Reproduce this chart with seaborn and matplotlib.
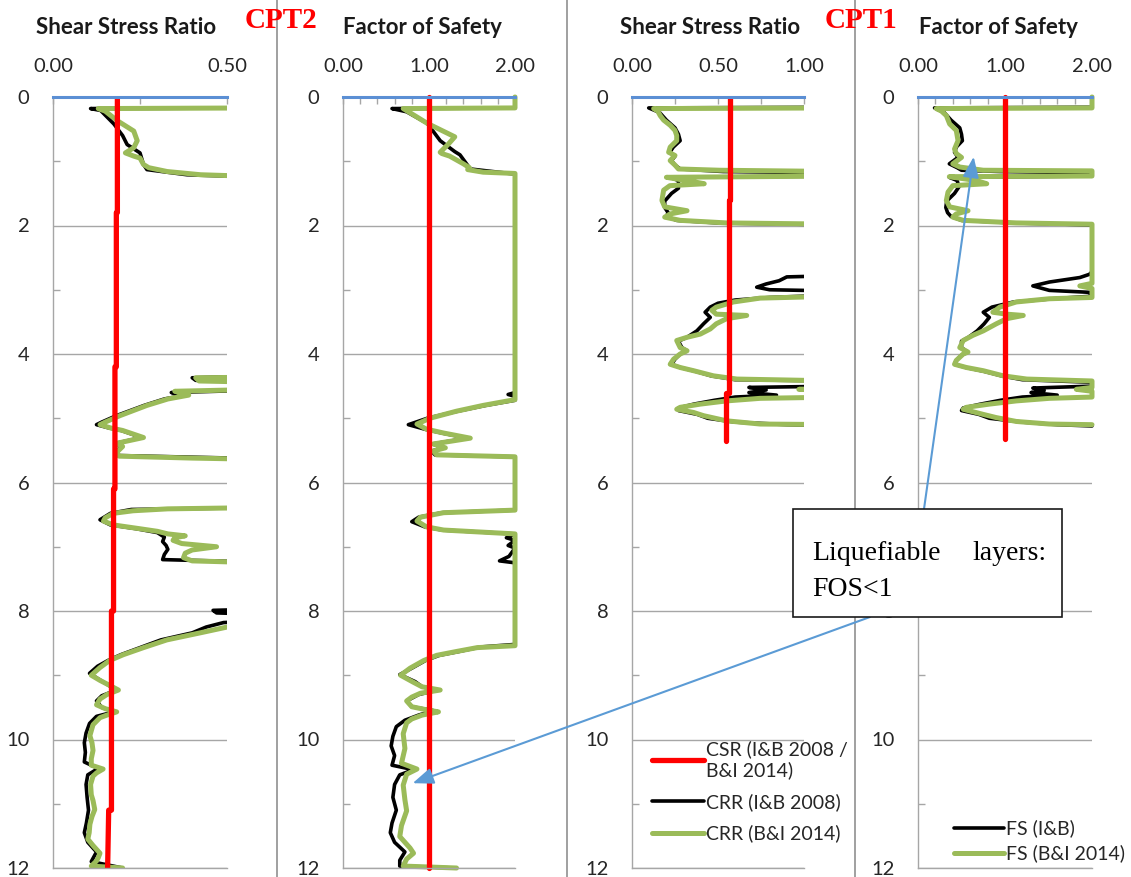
import numpy as np
import pandas as pd
import matplotlib
matplotlib.use("Agg")
import matplotlib.pyplot as plt
import seaborn as sns
from matplotlib.lines import Line2D
from matplotlib.patches import Rectangle, ConnectionPatch

# ---------------- data ----------------
# CPT2 - shear stress ratio panel
cpt2_csr_depth = [0.0, 1.8, 1.8, 4.2, 4.2, 6.1, 6.1, 8.0, 8.0, 11.1, 11.1, 12.0]
cpt2_csr = [0.185, 0.185, 0.182, 0.182, 0.178, 0.178, 0.174, 0.174, 0.168, 0.168, 0.160, 0.157]

cpt2_crr14_depth = [0.00, 0.17, 0.18, 0.22, 0.37, 0.53, 0.68, 0.79, 0.87, 0.92, 0.95, 1.05, 1.10, 1.16, 1.21, 1.24,
                    4.36, 4.37, 4.42, 4.44, 4.55, 4.58, 4.64, 4.70, 4.80, 4.88, 4.96, 5.06, 5.10, 5.15, 5.19, 5.30,
                    5.39, 5.44, 5.53, 5.59, 5.62, 5.64,
                    6.39, 6.41, 6.44, 6.48, 6.55, 6.60, 6.66, 6.72, 6.76, 6.80, 6.83, 6.86, 6.90, 6.95, 7.00, 7.05,
                    7.10, 7.17, 7.22, 7.25,
                    8.22, 8.25, 8.34, 8.45, 8.57, 8.68, 8.77, 8.88, 9.00, 9.08, 9.15, 9.23, 9.30, 9.37, 9.46, 9.52,
                    9.57, 9.62, 9.66, 9.77, 9.94, 10.05, 10.17, 10.30, 10.40, 10.46, 10.52, 10.57, 10.70, 10.86,
                    10.95, 11.09, 11.20, 11.32, 11.45, 11.55, 11.65, 11.77, 11.84, 11.89, 11.97, 12.00]
cpt2_crr14 = [0.60, 0.60, 0.130, 0.150, 0.185, 0.232, 0.242, 0.232, 0.208, 0.232, 0.250, 0.260, 0.275, 0.328, 0.424, 0.60,
              0.60, 0.410, 0.420, 0.60, 0.60, 0.350, 0.390, 0.330, 0.270, 0.231, 0.192, 0.150, 0.135, 0.165, 0.200, 0.260,
              0.183, 0.200, 0.183, 0.190, 0.400, 0.60,
              0.60, 0.330, 0.230, 0.173, 0.150, 0.145, 0.173, 0.250, 0.300, 0.330, 0.380, 0.350, 0.345, 0.370, 0.470, 0.400,
              0.380, 0.375, 0.400, 0.60,
              0.60, 0.500, 0.423, 0.327, 0.260, 0.202, 0.163, 0.135, 0.110, 0.135, 0.160, 0.188, 0.155, 0.135, 0.125, 0.150,
              0.183, 0.155, 0.135, 0.115, 0.106, 0.112, 0.115, 0.110, 0.110, 0.144, 0.125, 0.115, 0.108, 0.110,
              0.115, 0.120, 0.112, 0.106, 0.104, 0.100, 0.115, 0.135, 0.130, 0.125, 0.110, 0.200]

cpt2_crr08_depth = [0.00, 0.17, 0.18, 0.21, 0.42, 0.60, 0.74, 0.87, 1.05, 1.13, 1.21, 1.25,
                    4.34, 4.37, 4.41, 4.44, 4.56, 4.60, 4.64, 4.70, 4.80, 4.88, 4.96, 5.06, 5.10, 5.15, 5.19, 5.30,
                    5.39, 5.44, 5.53, 5.58, 5.63,
                    6.39, 6.42, 6.48, 6.58, 6.66, 6.72, 6.78, 6.85, 6.92, 6.98, 7.04, 7.12, 7.20, 7.24,
                    7.97, 7.99, 8.03, 8.05, 8.15, 8.18, 8.25, 8.34, 8.45, 8.57, 8.68, 8.77, 8.86, 8.97, 9.05, 9.15,
                    9.23, 9.32, 9.40, 9.50, 9.57, 9.64, 9.75, 9.90, 10.05, 10.20, 10.35, 10.45, 10.55, 10.70, 10.90,
                    11.10, 11.30, 11.45, 11.60, 11.75, 11.90, 12.00]
cpt2_crr08 = [0.60, 0.60, 0.108, 0.137, 0.175, 0.200, 0.213, 0.250, 0.260, 0.270, 0.385, 0.60,
              0.60, 0.400, 0.410, 0.60, 0.60, 0.340, 0.380, 0.320, 0.262, 0.222, 0.182, 0.140, 0.125, 0.160, 0.196, 0.255,
              0.180, 0.196, 0.180, 0.186, 0.60,
              0.60, 0.225, 0.165, 0.135, 0.165, 0.240, 0.300, 0.320, 0.315, 0.325, 0.330, 0.320, 0.315, 0.60,
              0.60, 0.460, 0.470, 0.60, 0.60, 0.490, 0.440, 0.400, 0.310, 0.250, 0.195, 0.158, 0.128, 0.105, 0.128, 0.158,
              0.182, 0.140, 0.125, 0.140, 0.175, 0.125, 0.105, 0.095, 0.090, 0.093, 0.090, 0.130, 0.100, 0.095, 0.098,
              0.102, 0.096, 0.090, 0.100, 0.125, 0.110, 0.200]

# CPT2 - factor of safety panel
cpt2_fs_ref_depth = [0.0, 12.0]
cpt2_fs_ref = [1.0, 1.0]

cpt2_fs14_depth = [0.00, 0.17, 0.18, 0.41, 0.62, 0.74, 0.86, 0.88, 0.92, 1.04, 1.10, 1.13, 1.17, 1.19,
                   4.71, 4.80, 4.89, 5.00, 5.09, 5.17, 5.23, 5.31, 5.40, 5.46, 5.51, 5.57, 5.60,
                   6.43, 6.47, 6.54, 6.60, 6.69, 6.74, 6.80,
                   8.54, 8.57, 8.63, 8.69, 8.77, 8.89, 9.00, 9.11, 9.18, 9.23, 9.28, 9.34, 9.40, 9.49, 9.54, 9.57,
                   9.62, 9.68, 9.74, 9.91, 10.14, 10.37, 10.46, 10.54, 10.71, 10.94, 11.11, 11.34, 11.51, 11.69,
                   11.77, 11.86, 11.97, 12.00]
cpt2_fs14 = [2.0, 2.0, 0.70, 0.98, 1.30, 1.22, 1.13, 1.15, 1.24, 1.40, 1.47, 1.45, 1.63, 2.0,
             2.0, 1.63, 1.32, 1.01, 0.86, 0.97, 1.17, 1.48, 1.05, 1.19, 1.05, 1.09, 2.0,
             2.0, 1.17, 0.90, 0.86, 0.97, 1.17, 2.0,
             2.0, 1.56, 1.32, 1.09, 0.94, 0.78, 0.67, 0.82, 0.92, 1.13, 0.90, 0.80, 0.74, 0.80, 0.98, 1.11,
             0.92, 0.80, 0.74, 0.70, 0.72, 0.68, 0.86, 0.74, 0.70, 0.72, 0.74, 0.68, 0.66, 0.78,
             0.82, 0.74, 0.70, 1.32]

cpt2_fs08_depth = [0.00, 0.17, 0.18, 0.23, 0.41, 0.68, 0.85, 0.90, 1.12, 1.20,
                   4.60, 4.63, 4.66, 4.72, 4.80, 4.90, 5.00, 5.10, 5.17, 5.23, 5.31, 5.40, 5.46, 5.51, 5.57, 5.60,
                   6.43, 6.47, 6.54, 6.61, 6.69, 6.74, 6.80, 6.86, 6.90, 6.98, 7.02, 7.15, 7.22, 7.25,
                   8.52, 8.56, 8.63, 8.69, 8.77, 8.89, 8.99, 9.10, 9.18, 9.23, 9.30, 9.40, 9.49, 9.55, 9.62, 9.70,
                   9.80, 9.95, 10.10, 10.25, 10.40, 10.47, 10.55, 10.70, 10.90, 11.10, 11.30, 11.45, 11.60, 11.75,
                   11.88, 11.97, 12.00]
cpt2_fs08 = [2.0, 2.0, 0.57, 0.74, 0.98, 1.13, 1.30, 1.36, 1.48, 2.0,
             2.0, 1.92, 2.0, 2.0, 1.66, 1.30, 0.98, 0.76, 0.95, 1.15, 1.45, 1.04, 1.17, 1.03, 1.07, 2.0,
             2.0, 1.15, 0.88, 0.80, 0.95, 1.15, 2.0, 1.90, 2.0, 1.92, 2.0, 1.93, 1.82, 2.0,
             2.0, 1.60, 1.35, 1.12, 0.96, 0.80, 0.66, 0.84, 0.92, 1.10, 0.88, 0.74, 0.80, 1.05, 0.88, 0.72,
             0.62, 0.58, 0.56, 0.60, 0.57, 0.82, 0.66, 0.60, 0.58, 0.62, 0.57, 0.55, 0.60, 0.72,
             0.66, 0.66, 1.30]

# CPT1 - shear stress ratio panel
cpt1_csr_depth = [0.0, 1.6, 1.6, 4.6, 4.6, 5.35]
cpt1_csr = [0.572, 0.572, 0.562, 0.562, 0.548, 0.548]

cpt1_crr14_depth = [0.00, 0.17, 0.18, 0.22, 0.29, 0.36, 0.44, 0.52, 0.60, 0.68, 0.78, 0.86, 0.91, 0.99, 1.06, 1.12,
                    1.14, 1.16, 1.23, 1.25, 1.32, 1.35, 1.38, 1.45, 1.61, 1.71, 1.77, 1.82, 1.87, 1.92, 1.96, 1.98,
                    3.10, 3.13, 3.19, 3.27, 3.32, 3.38, 3.40, 3.45, 3.53, 3.61, 3.69, 3.74, 3.79, 3.90, 3.95, 4.00,
                    4.08, 4.16, 4.21, 4.26, 4.34, 4.39, 4.42, 4.53, 4.55, 4.57, 4.67, 4.69, 4.73, 4.78, 4.83, 4.86,
                    4.91, 4.96, 5.04, 5.09, 5.10]
cpt1_crr14 = [1.2, 1.2, 0.126, 0.150, 0.164, 0.184, 0.222, 0.250, 0.260, 0.260, 0.222, 0.213, 0.250, 0.222, 0.250, 0.270,
              0.510, 1.2, 1.2, 0.200, 0.360, 0.420, 0.220, 0.184, 0.174, 0.190, 0.320, 0.222, 0.190, 0.280, 0.550, 1.2,
              1.2, 0.745, 0.590, 0.490, 0.464, 0.490, 0.667, 0.550, 0.490, 0.455, 0.397, 0.320, 0.260, 0.280, 0.320, 0.280,
              0.242, 0.222, 0.280, 0.358, 0.474, 0.610, 1.2, 1.2, 0.970, 1.2, 1.2, 0.745, 0.550, 0.397, 0.280, 0.260,
              0.358, 0.416, 0.550, 0.745, 1.2]

cpt1_crr08_depth = [0.00, 0.16, 0.17, 0.24, 0.36, 0.48, 0.58, 0.68, 0.78, 0.86, 0.92, 0.99, 1.06, 1.12, 1.16, 1.18,
                    1.23, 1.25, 1.30, 1.42, 1.50, 1.62, 1.72, 1.80, 1.86, 1.92, 1.96, 1.99,
                    2.78, 2.80, 2.86, 2.91, 2.96, 3.00, 3.02, 3.08, 3.12, 3.16, 3.21, 3.27, 3.35, 3.43, 3.53, 3.64,
                    3.74, 3.80, 3.90, 3.95, 4.00, 4.08, 4.16, 4.21, 4.27, 4.34, 4.40, 4.42, 4.50, 4.52, 4.56, 4.60,
                    4.64, 4.67, 4.72, 4.78, 4.84, 4.88, 4.94, 5.00, 5.06, 5.10, 5.12]
cpt1_crr08 = [1.2, 1.2, 0.097, 0.160, 0.200, 0.250, 0.270, 0.280, 0.240, 0.220, 0.250, 0.230, 0.250, 0.280, 0.530, 1.2,
              1.2, 0.220, 0.270, 0.270, 0.230, 0.190, 0.190, 0.210, 0.200, 0.260, 0.500, 1.2,
              1.2, 0.900, 0.855, 0.780, 0.725, 0.800, 1.2, 1.2, 0.800, 0.600, 0.500, 0.455, 0.425, 0.455, 0.416, 0.377,
              0.320, 0.270, 0.290, 0.320, 0.280, 0.250, 0.230, 0.280, 0.370, 0.460, 0.600, 1.2, 1.2, 0.680, 0.780, 0.680,
              0.840, 0.600, 0.480, 0.360, 0.270, 0.270, 0.380, 0.440, 0.600, 0.900, 1.2]

# CPT1 - factor of safety panel
cpt1_fs_ref_depth = [0.0, 5.32]
cpt1_fs_ref = [1.0, 1.0]

cpt1_fs14_depth = [0.00, 0.17, 0.18, 0.22, 0.29, 0.42, 0.52, 0.68, 0.81, 0.88, 0.94, 1.04, 1.09, 1.14, 1.15, 1.23,
                   1.24, 1.30, 1.35, 1.38, 1.48, 1.61, 1.71, 1.77, 1.82, 1.87, 1.92, 1.96, 1.98, 2.90, 2.94, 2.98,
                   3.12, 3.14, 3.19, 3.27, 3.35, 3.38, 3.40, 3.45, 3.53, 3.64, 3.71, 3.79, 3.90, 3.97, 4.00, 4.10,
                   4.16, 4.21, 4.26, 4.34, 4.39, 4.42, 4.52, 4.55, 4.58, 4.67, 4.69, 4.73, 4.78, 4.83, 4.86, 4.94,
                   4.99, 5.05, 5.09, 5.10]
cpt1_fs14 = [2.0, 2.0, 0.21, 0.27, 0.326, 0.364, 0.44, 0.46, 0.42, 0.44, 0.50, 0.40, 0.48, 0.75, 2.0, 2.0,
             0.36, 0.67, 0.79, 0.40, 0.345, 0.326, 0.364, 0.575, 0.44, 0.40, 0.52, 1.13, 2.0, 2.0, 1.86, 2.0,
             2.0, 1.51, 1.13, 0.94, 0.86, 1.02, 1.21, 1.02, 0.90, 0.75, 0.63, 0.52, 0.48, 0.575, 0.52, 0.44,
             0.42, 0.556, 0.75, 0.98, 1.25, 2.0, 2.0, 1.82, 2.0, 2.0, 1.51, 1.13, 0.82, 0.556, 0.52, 0.75,
             0.90, 1.13, 1.51, 2.0]

cpt1_fs08_depth = [0.00, 0.16, 0.17, 0.24, 0.36, 0.48, 0.58, 0.68, 0.78, 0.86, 0.94, 1.04, 1.10, 1.14, 1.16, 1.18,
                   1.23, 1.25, 1.30, 1.40, 1.50, 1.62, 1.72, 1.80, 1.86, 1.92, 1.96, 1.99,
                   2.72, 2.76, 2.81, 2.88, 2.94, 3.01, 3.04, 3.10, 3.14, 3.19, 3.27, 3.35, 3.43, 3.53, 3.64, 3.74,
                   3.80, 3.90, 3.97, 4.02, 4.10, 4.16, 4.21, 4.27, 4.34, 4.40, 4.44, 4.50, 4.53, 4.57, 4.60, 4.64,
                   4.67, 4.72, 4.78, 4.84, 4.88, 4.94, 5.00, 5.06, 5.10, 5.12]
cpt1_fs08 = [2.0, 2.0, 0.19, 0.30, 0.38, 0.48, 0.50, 0.51, 0.44, 0.42, 0.46, 0.36, 0.45, 0.50, 0.95, 2.0,
             2.0, 0.36, 0.45, 0.47, 0.42, 0.33, 0.32, 0.34, 0.38, 0.50, 1.10, 2.0,
             2.0, 1.97, 1.86, 1.51, 1.32, 1.51, 1.97, 2.0, 1.55, 1.10, 0.85, 0.75, 0.82, 0.76, 0.68, 0.58,
             0.50, 0.50, 0.57, 0.50, 0.44, 0.42, 0.55, 0.76, 0.96, 1.20, 2.0, 2.0, 1.32, 1.45, 1.30, 1.60,
             1.20, 0.95, 0.72, 0.52, 0.50, 0.70, 0.82, 1.20, 1.60, 2.0]

titles = ["Shear Stress Ratio", "Factor of Safety", "Shear Stress Ratio", "Factor of Safety"]
x_limits = [0.5, 2.0, 1.0, 2.0]
x_major = [[0, 0.5], [0, 1, 2], [0, 0.5, 1], [0, 1, 2]]
x_minor = [[0.25], list(np.arange(0, 2.01, 0.2)), [0.25, 0.75], list(np.arange(0, 2.01, 0.2))]

# ---------------- styling ----------------
sns.set_theme(style="white")
plt.rcParams["font.family"] = ["Lato", "DejaVu Sans"]

RED = "#FF0000"
GREEN = "#9BBB59"
BLACK = "#000000"
BLUE = "#5B8FD4"
GRAY = "#A6A6A6"

W, H = 1131, 877
fig = plt.figure(figsize=(W / 100, H / 100), dpi=100)

# axes boxes in pixels: left, right
boxes = [(53, 227), (343, 515), (632, 804), (918, 1092)]
top_px, bot_px = 97, 868
axes = []
for (l, r) in boxes:
    ax = fig.add_axes([l / W, 1 - bot_px / H, (r - l) / W, (bot_px - top_px) / H])
    ax.set_facecolor("none")
    axes.append(ax)

curves = [
    [(cpt2_crr08, cpt2_crr08_depth, BLACK, 2.6, True), (cpt2_crr14, cpt2_crr14_depth, GREEN, 3.6, True),
     (cpt2_csr, cpt2_csr_depth, RED, 3.8, True)],
    [(cpt2_fs08, cpt2_fs08_depth, BLACK, 2.6, False), (cpt2_fs14, cpt2_fs14_depth, GREEN, 3.6, False),
     (cpt2_fs_ref, cpt2_fs_ref_depth, RED, 3.8, False)],
    [(cpt1_crr08, cpt1_crr08_depth, BLACK, 2.6, True), (cpt1_crr14, cpt1_crr14_depth, GREEN, 3.6, True),
     (cpt1_csr, cpt1_csr_depth, RED, 3.8, True)],
    [(cpt1_fs08, cpt1_fs08_depth, BLACK, 2.6, False), (cpt1_fs14, cpt1_fs14_depth, GREEN, 3.6, False),
     (cpt1_fs_ref, cpt1_fs_ref_depth, RED, 3.8, False)],
]

for i, ax in enumerate(axes):
    for vals, depth, col, lw, clip in curves[i]:
        sns.lineplot(x=vals, y=depth, sort=False, estimator=None, color=col, linewidth=lw,
                     ax=ax, clip_on=clip, solid_joinstyle="round")
    ax.set_xlim(0, x_limits[i])
    ax.set_ylim(12, 0)
    ax.set_xlabel("")
    ax.set_ylabel("")
    ax.xaxis.tick_top()
    ax.set_xticks(x_major[i])
    ax.set_xticklabels([f"{v:.2f}" for v in x_major[i]])
    ax.set_xticks(x_minor[i], minor=True)
    ax.set_yticks(range(0, 13, 2))
    ax.set_yticks(range(1, 12, 2), minor=True)
    ax.tick_params(axis="x", which="both", direction="in", length=5, color=GRAY, width=1,
                   top=True, bottom=False, labeltop=True, labelbottom=False)
    ax.tick_params(axis="x", which="major", pad=16, labelsize=14.5, labelcolor="#262626")
    ax.tick_params(axis="y", which="major", length=0, pad=17, labelsize=14.5, labelcolor="#262626")
    ax.tick_params(axis="y", which="minor", direction="in", length=5, color=GRAY, width=1, left=True)
    ax.yaxis.grid(True, which="major", color=GRAY, linewidth=1)
    ax.xaxis.grid(False)
    ax.spines["right"].set_visible(False)
    ax.spines["left"].set_color(GRAY)
    ax.spines["left"].set_linewidth(1)
    ax.spines["bottom"].set_color(GRAY)
    ax.spines["bottom"].set_linewidth(1)
    ax.spines["top"].set_color(BLUE)
    ax.spines["top"].set_linewidth(2.2)
    ax.spines["top"].set_zorder(5)
    if ax.get_legend() is not None:
        ax.get_legend().remove()

# panel titles
title_x = [126, 422, 710, 998]
for tx, t in zip(title_x, titles):
    fig.text(tx / W, 1 - 27 / H, t, ha="center", va="center", fontsize=16, fontweight="bold", color="#1a1a1a")
fig.text(281 / W, 1 - 20 / H, "CPT2", ha="center", va="center", fontsize=21, fontweight="bold",
         color=RED, family="Liberation Serif")
fig.text(861 / W, 1 - 20 / H, "CPT1", ha="center", va="center", fontsize=21, fontweight="bold",
         color=RED, family="Liberation Serif")

# separator lines
for sx in [277, 567, 855]:
    fig.add_artist(Line2D([sx / W, sx / W], [0, 1], transform=fig.transFigure, color="#A0A0A0", lw=1.4, zorder=1))

# legends
l3 = axes[2].get_lines()
axes[2].legend([l3[2], l3[0], l3[1]], ["CSR (I&B 2008 /\nB&I 2014)", "CRR (I&B 2008)", "CRR (B&I 2014)"],
               loc="upper left", bbox_to_anchor=(642 / W, 1 - 731 / H), bbox_transform=fig.transFigure,
               frameon=False, fontsize=14, handlelength=2.7, handletextpad=0.1, labelspacing=0.7,
               borderpad=0, labelcolor="#262626")
l4 = axes[3].get_lines()
axes[3].legend([l4[0], l4[1]], ["FS (I&B)", "FS (B&I 2014)"],
               loc="upper left", bbox_to_anchor=(944 / W, 1 - 810 / H), bbox_transform=fig.transFigure,
               frameon=False, fontsize=14, handlelength=2.6, handletextpad=0.1, labelspacing=0.35,
               borderpad=0, labelcolor="#262626")

# annotation arrows and box
arrow_kw = dict(arrowstyle="-|>,head_length=0.9,head_width=0.35", color="#5B9BD5", lw=1.5,
                mutation_scale=14, zorder=2)
a1 = ConnectionPatch(xyA=(870 / W, 1 - 617 / H), coordsA="figure fraction",
                     xyB=(0.81, 10.68), coordsB=axes[1].transData, **arrow_kw)
fig.add_artist(a1)
a2 = ConnectionPatch(xyA=(924 / W, 1 - 509 / H), coordsA="figure fraction",
                     xyB=(0.64, 0.93), coordsB=axes[3].transData, **arrow_kw)
fig.add_artist(a2)

fig.add_artist(Rectangle((793 / W, 1 - 617 / H), (1062 - 793) / W, (617 - 509) / H,
                         transform=fig.transFigure, facecolor="white", edgecolor="#1a1a1a", lw=1.2, zorder=3))
fig.text(812 / W, 1 - 553 / H, "Liquefiable", ha="left", va="center", fontsize=20,
         family="Liberation Serif", color="black", zorder=4)
fig.text(1047 / W, 1 - 553 / H, "layers:", ha="right", va="center", fontsize=20,
         family="Liberation Serif", color="black", zorder=4)
fig.text(812 / W, 1 - 589 / H, "FOS<1", ha="left", va="center", fontsize=20,
         family="Liberation Serif", color="black", zorder=4)

fig.savefig("out.png", dpi=100)
